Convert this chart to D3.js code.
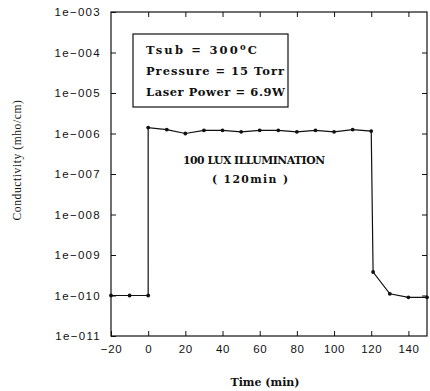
<!DOCTYPE html>
<html><head><meta charset="utf-8">
<script src="https://cdn.jsdelivr.net/npm/d3@7"></script>
<style>body{margin:0;background:#fff}svg{display:block}</style>
</head><body>
<script>
const times = [-20, -10, 0, 0, 10, 20, 30, 40, 50, 60, 70, 80, 90, 100, 110, 120, 121, 130, 140, 150];
const conductivity = [1e-10, 1e-10, 1e-10, 1.4e-6, 1.25e-6, 1.0e-6, 1.2e-6, 1.2e-6, 1.1e-6, 1.2e-6, 1.2e-6, 1.1e-6, 1.2e-6, 1.1e-6, 1.25e-6, 1.15e-6, 3.8e-10, 1.1e-10, 0.9e-10, 0.9e-10];
const xTicks = [-20, 0, 20, 40, 60, 80, 100, 120, 140];
const yTicks = [1e-11, 1e-10, 1e-9, 1e-8, 1e-7, 1e-6, 1e-5, 1e-4, 1e-3];
const yTickLabels = ["1e\u2212011", "1e\u2212010", "1e\u2212009", "1e\u2212008", "1e\u2212007", "1e\u2212006", "1e\u2212005", "1e\u2212004", "1e\u2212003"];
const boxLines = ["Tsub = 300", "Pressure = 15 Torr", "Laser Power = 6.9W"];

const W = 430, H = 391;
const m = {l: 111, r: 3, t: 12, b: 55};
const svg = d3.select("body").append("svg").attr("width", W).attr("height", H);
const x = d3.scaleLinear().domain([-20, 150]).range([m.l, W - m.r]);
const y = d3.scaleLog().domain([1e-11, 1e-3]).range([H - m.b, m.t]);
const ink = "#111";

// frame
svg.append("rect").attr("x", x(-20)).attr("y", y(1e-3))
  .attr("width", x(150) - x(-20)).attr("height", y(1e-11) - y(1e-3))
  .attr("fill", "none").attr("stroke", ink).attr("stroke-width", 1.2);

const tickFont = "'Liberation Sans', Arial, sans-serif";
// bottom axis
const gx = svg.append("g").attr("transform", `translate(0,${y(1e-11)})`)
  .call(d3.axisBottom(x).tickValues(xTicks).tickSize(-5).tickPadding(9).tickFormat(d => d < 0 ? "\u2212" + Math.abs(d) : d));
gx.select(".domain").remove();
gx.selectAll("text").attr("font-family", tickFont).attr("font-size", 11.5).attr("letter-spacing", 0.6).attr("fill", ink);
gx.selectAll("line").attr("stroke", ink);
// top axis ticks
const gxt = svg.append("g").attr("transform", `translate(0,${y(1e-3)})`)
  .call(d3.axisTop(x).tickValues(xTicks.slice(1)).tickSize(-5).tickFormat(""));
gxt.select(".domain").remove();
gxt.selectAll("line").attr("stroke", ink);
// left axis
const gy = svg.append("g").attr("transform", `translate(${x(-20)},0)`)
  .call(d3.axisLeft(y).tickValues(yTicks).tickSize(-5).tickPadding(10).tickFormat((d, i) => yTickLabels[i]));
gy.select(".domain").remove();
gy.selectAll("text").attr("font-family", tickFont).attr("font-size", 11.5).attr("letter-spacing", 1.3).attr("fill", ink);
gy.selectAll("line").attr("stroke", ink);
// right ticks
const gyr = svg.append("g").attr("transform", `translate(${x(150)},0)`)
  .call(d3.axisRight(y).tickValues(yTicks.slice(1, -1)).tickSize(-5).tickFormat(""));
gyr.select(".domain").remove();
gyr.selectAll("line").attr("stroke", ink);

// data line
const pts = times.map((t, i) => [t, conductivity[i]]);
svg.append("path").datum(pts)
  .attr("d", d3.line().x(d => x(d[0])).y(d => y(d[1])))
  .attr("fill", "none").attr("stroke", ink).attr("stroke-width", 1.2);
svg.selectAll("circle.pt").data(pts).join("circle")
  .attr("class", "pt").attr("cx", d => x(d[0])).attr("cy", d => y(d[1])).attr("r", 1.9).attr("fill", ink);

// info box
const serifB = "'DejaVu Serif', 'Liberation Serif', serif";
svg.append("rect").attr("x", 133).attr("y", 34).attr("width", 155).attr("height", 73)
  .attr("fill", "#fff").attr("stroke", ink).attr("stroke-width", 1.2);
const bt = svg.append("g").attr("font-family", serifB).attr("font-weight", "bold").attr("font-size", 11.5).attr("fill", ink);
const l1 = bt.append("text").attr("x", 146).attr("y", 54).attr("textLength", 111).attr("lengthAdjust", "spacing");
l1.append("tspan").text(boxLines[0]);
l1.append("tspan").attr("dy", -4).attr("font-size", 8.5).text("o");
l1.append("tspan").attr("dy", 4).text("C");
bt.append("text").attr("x", 146).attr("y", 75).attr("textLength", 138).attr("lengthAdjust", "spacing").text(boxLines[1]);
bt.append("text").attr("x", 146).attr("y", 96).attr("textLength", 139).attr("lengthAdjust", "spacing").text(boxLines[2]);

// annotations
svg.append("text").attr("x", 183).attr("y", 164).attr("textLength", 142).attr("lengthAdjust", "spacing")
  .attr("font-family", serifB).attr("font-weight", "bold").attr("font-size", 10.8).attr("fill", ink).text("100 LUX ILLUMINATION");
svg.append("text").attr("x", 212).attr("y", 183).attr("textLength", 76).attr("lengthAdjust", "spacing")
  .attr("font-family", serifB).attr("font-weight", "bold").attr("font-size", 10.8).attr("fill", ink).text("( 120min )");

// axis titles
svg.append("text").attr("x", 265).attr("y", 386).attr("text-anchor", "middle")
  .attr("font-family", serifB).attr("font-weight", "bold").attr("font-size", 11).attr("fill", ink).text("Time (min)");
svg.append("text").attr("transform", "translate(21,160) rotate(-90)").attr("text-anchor", "middle")
  .attr("font-family", "'Liberation Serif', serif").attr("font-size", 11.5).attr("letter-spacing", 0.6).attr("fill", ink).text("Conductivity (mho/cm)");
</script>
</body></html>
